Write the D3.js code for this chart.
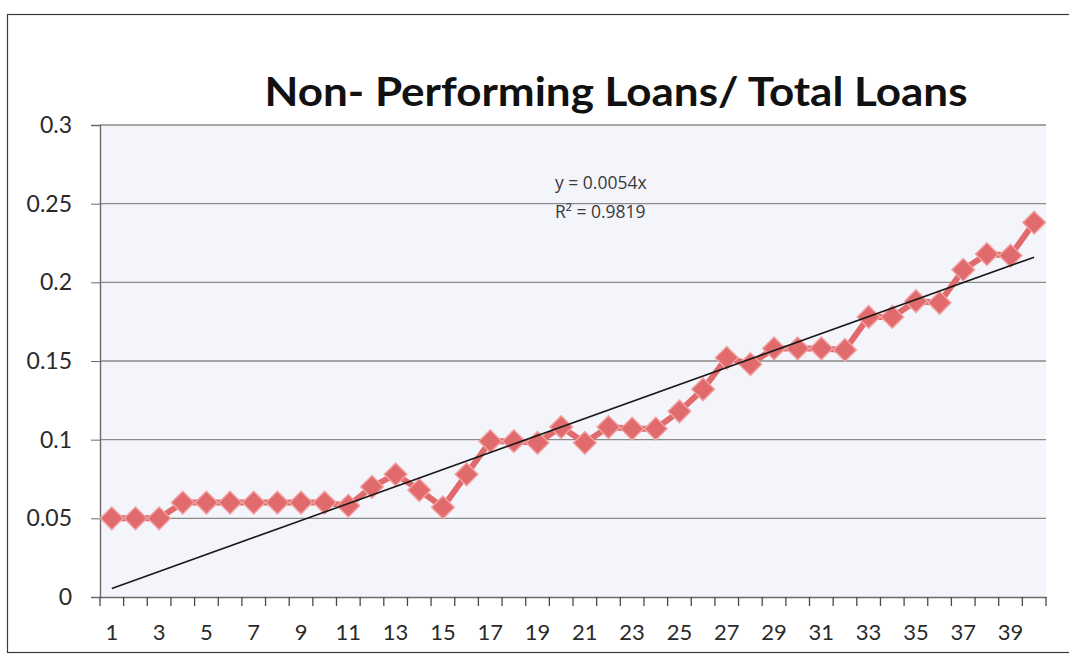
<!DOCTYPE html>
<html>
<head>
<meta charset="utf-8">
<script src="https://cdn.jsdelivr.net/npm/d3@7"></script>
<style>
  html, body { margin: 0; padding: 0; background: #ffffff; }
  svg { display: block; }
</style>
</head>
<body>
<svg id="chart" width="1069" height="664"></svg>
<script>
const title = "Non- Performing Loans/ Total Loans";
const categories = [1,2,3,4,5,6,7,8,9,10,11,12,13,14,15,16,17,18,19,20,21,22,23,24,25,26,27,28,29,30,31,32,33,34,35,36,37,38,39,40];
const ratioValues = [0.05,0.05,0.05,0.06,0.06,0.06,0.06,0.06,0.06,0.06,0.058,0.07,0.078,0.068,0.057,0.078,0.099,0.099,0.098,0.108,0.098,0.108,0.107,0.107,0.118,0.132,0.152,0.148,0.158,0.158,0.158,0.157,0.178,0.178,0.188,0.187,0.208,0.218,0.217,0.238];
const trendSlope = 0.0054;
const trendLabels = ["y = 0.0054x", "R² = 0.9819"];
const yTicks = [0, 0.05, 0.1, 0.15, 0.2, 0.25, 0.3];
const xTickLabels = [1,3,5,7,9,11,13,15,17,19,21,23,25,27,29,31,33,35,37,39];

const svg = d3.select("#chart");
const plot = {left: 100, right: 1046, top: 125, bottom: 597};
const lineColor = "#e06a6c";
const font = "Lato, 'Open Sans', sans-serif";

// outer chart frame
svg.append("rect").attr("x", 7.5).attr("y", 14.5).attr("width", 1080).attr("height", 638)
  .attr("fill", "#ffffff").attr("stroke", "#3a3a3a").attr("stroke-width", 1.2);

// plot area
svg.append("rect").attr("x", plot.left).attr("y", plot.top)
  .attr("width", plot.right - plot.left).attr("height", plot.bottom - plot.top)
  .attr("fill", "#f4f4fb");

const x = d3.scaleBand().domain(categories).range([plot.left, plot.right]).padding(0);
const y = d3.scaleLinear().domain([0, 0.3]).range([plot.bottom, plot.top]);
const cx = d => x(d) + x.bandwidth() / 2;

// gridlines
svg.append("g").selectAll("line").data(yTicks.filter(t => t > 0)).join("line")
  .attr("x1", plot.left).attr("x2", plot.right)
  .attr("y1", d => y(d)).attr("y2", d => y(d))
  .attr("stroke", "#8a8a8a").attr("stroke-width", 1.4);

// y axis
const yAxis = d3.axisLeft(y).tickValues(yTicks).tickSize(9).tickPadding(19)
  .tickFormat(d => d3.format("")(+d.toFixed(2)));
const gy = svg.append("g").attr("transform", `translate(${plot.left},0)`).call(yAxis);
gy.select(".domain").attr("stroke", "#6a6a6a").attr("stroke-width", 1.4);
gy.selectAll(".tick line").attr("stroke", "#6a6a6a");
gy.selectAll("text").attr("font-family", font)
  .attr("font-size", 23).attr("fill", "#2a2a2a");

// x axis
const xAxis = d3.axisBottom(x).tickValues(xTickLabels).tickSize(0).tickPadding(27);
const gx = svg.append("g").attr("transform", `translate(0,${plot.bottom})`).call(xAxis);
gx.select(".domain").attr("stroke", "#6a6a6a").attr("stroke-width", 1.4);
gx.selectAll("text").attr("font-family", font)
  .attr("font-size", 22).attr("fill", "#2a2a2a");
// category boundary ticks
const boundaries = categories.map(c => x(c)).concat([x(categories[categories.length - 1]) + x.bandwidth()]);
svg.append("g").selectAll("line").data(boundaries).join("line")
  .attr("x1", d => d).attr("x2", d => d)
  .attr("y1", plot.bottom).attr("y2", plot.bottom + 9)
  .attr("stroke", "#4a4a4a").attr("stroke-width", 1.3);

// series line
const line = d3.line().x((d, i) => cx(categories[i])).y(d => y(d));
svg.append("path").datum(ratioValues).attr("d", line)
  .attr("fill", "none").attr("stroke", lineColor).attr("stroke-width", 6)
  .attr("stroke-linejoin", "round");

// diamond markers
const diamond = d3.symbol().type(d3.symbolDiamond2).size(330);
svg.append("g").selectAll("path").data(ratioValues).join("path")
  .attr("d", diamond)
  .attr("transform", (d, i) => `translate(${cx(categories[i])},${y(d)})`)
  .attr("fill", lineColor).attr("stroke", "#f2a3a3").attr("stroke-width", 1.4);

// trend line
const trend = d3.line().x(d => cx(d)).y(d => y(trendSlope * d));
svg.append("path").datum([categories[0], categories[categories.length - 1]]).attr("d", trend)
  .attr("fill", "none").attr("stroke", "#1a1a1a").attr("stroke-width", 1.6);

// trend equation
svg.append("g").selectAll("text").data(trendLabels).join("text")
  .attr("x", 555).attr("y", (d, i) => 189 + i * 29)
  .attr("font-family", "'Open Sans', Lato, sans-serif").attr("font-size", 17.5)
  .attr("fill", "#3a3a3a").text(d => d);

// title
svg.append("text").attr("x", 616).attr("y", 106).attr("text-anchor", "middle")
  .attr("font-family", font).attr("font-weight", "bold")
  .attr("font-size", 41).attr("textLength", 703).attr("lengthAdjust", "spacingAndGlyphs")
  .attr("fill", "#111").text(title);
</script>
</body>
</html>
